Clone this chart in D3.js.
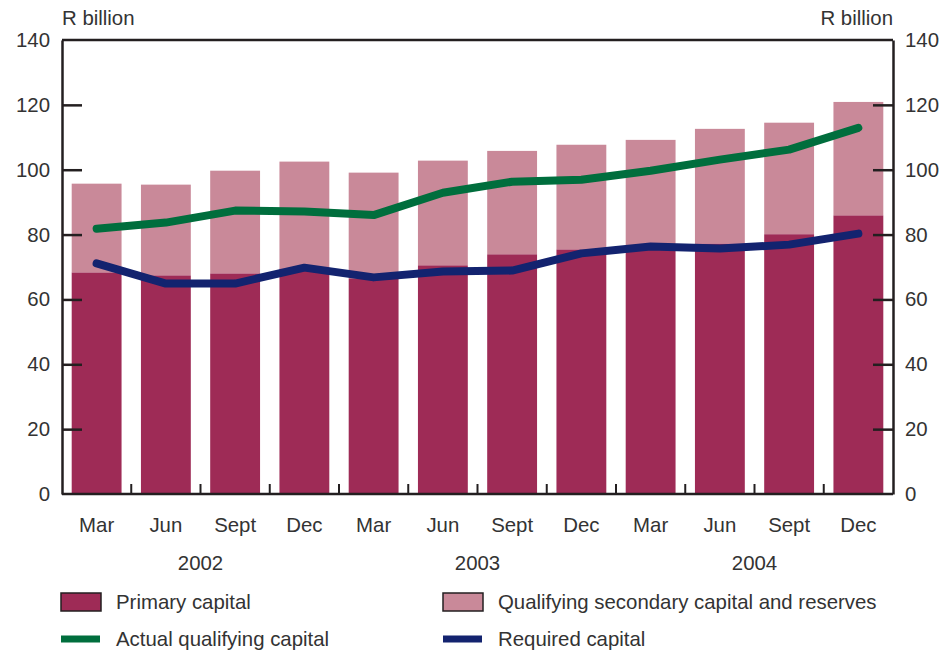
<!DOCTYPE html>
<html>
<head>
<meta charset="utf-8">
<script src="https://cdn.jsdelivr.net/npm/d3@7/dist/d3.min.js"></script>
<style>
  body { margin: 0; background: #fff; }
  text { font-family: "Liberation Sans", Arial, sans-serif; fill: #333; }
</style>
</head>
<body>
<div id="chart"></div>
<script>
// quarters and year labels
var quarters = ["Mar", "Jun", "Sept", "Dec", "Mar", "Jun", "Sept", "Dec", "Mar", "Jun", "Sept", "Dec"];
var years = ["2002", "2003", "2004"];

// R billion
var primary = [68.3, 67.4, 68.0, 69.5, 66.5, 70.5, 73.9, 75.4, 76.0, 77.2, 80.1, 85.9];
var totalQualifying = [95.7, 95.4, 99.7, 102.5, 99.1, 102.8, 105.8, 107.7, 109.2, 112.6, 114.5, 120.9];
var actualQualifying = [81.8, 83.7, 87.4, 87.1, 86.0, 92.9, 96.3, 96.9, 99.7, 103.1, 106.2, 112.9];
var requiredCapital = [71.1, 64.9, 64.9, 69.8, 66.8, 68.6, 68.9, 74.2, 76.3, 75.7, 76.9, 80.3];
var yTicks = [0, 20, 40, 60, 80, 100, 120, 140];

function main() {
    var width = 944, height = 652;
    var margin = { top: 40, left: 62, right: 51, bottom: 158 };
    var w = width - margin.left - margin.right,
        h = height - margin.top - margin.bottom;
    var fs = "20.4px";

    var colPrimary = "#9e2b56", colSecondary = "#c98999",
        colGreen = "#006e3d", colBlue = "#13236f", colAxis = "#231f20";

    var svg = d3.select("#chart").append("svg")
        .attr("width", width)
        .attr("height", height);

    var g = svg.append("g")
        .attr("transform", "translate(" + margin.left + "," + margin.top + ")");

    var idx = d3.range(quarters.length);

    var x = d3.scaleBand()
        .domain(idx)
        .range([0, w])
        .paddingInner(0.28)
        .paddingOuter(0.14);

    var y = d3.scaleLinear()
        .domain([0, 140])
        .range([h, 0]);

    // stacked bars: primary + secondary
    g.selectAll(".bar-secondary")
        .data(idx)
        .enter().append("rect")
        .attr("x", d => x(d))
        .attr("width", x.bandwidth())
        .attr("y", d => y(totalQualifying[d]))
        .attr("height", d => y(primary[d]) - y(totalQualifying[d]))
        .attr("fill", colSecondary);

    g.selectAll(".bar-primary")
        .data(idx)
        .enter().append("rect")
        .attr("x", d => x(d))
        .attr("width", x.bandwidth())
        .attr("y", d => y(primary[d]))
        .attr("height", d => y(0) - y(primary[d]))
        .attr("fill", colPrimary);

    // lines
    var line = d3.line()
        .x(d => x(d[0]) + x.bandwidth() / 2)
        .y(d => y(d[1]));

    g.append("path")
        .datum(idx.map(i => [i, actualQualifying[i]]))
        .attr("d", line)
        .attr("fill", "none")
        .attr("stroke", colGreen)
        .attr("stroke-width", 8)
        .attr("stroke-linecap", "round")
        .attr("stroke-linejoin", "round");

    g.append("path")
        .datum(idx.map(i => [i, requiredCapital[i]]))
        .attr("d", line)
        .attr("fill", "none")
        .attr("stroke", colBlue)
        .attr("stroke-width", 8)
        .attr("stroke-linecap", "round")
        .attr("stroke-linejoin", "round");

    // axes (ticks point inward)
    var leftAxis = d3.axisLeft(y).tickValues(yTicks).tickSize(-20).tickPadding(12).tickSizeOuter(0);
    var rightAxis = d3.axisRight(y).tickValues(yTicks).tickSize(-20).tickPadding(12).tickSizeOuter(0);

    var gl = g.append("g").call(leftAxis);
    var gr = g.append("g").attr("transform", "translate(" + w + ",0)").call(rightAxis);
    [gl, gr].forEach(function(a) {
        a.selectAll("path.domain").attr("stroke", colAxis).attr("stroke-width", 2.5);
        a.selectAll(".tick line").attr("stroke", colAxis).attr("stroke-width", 2.5);
        a.selectAll(".tick line").filter(d => d === 0 || d === 140).remove();
        a.selectAll(".tick text")
            .style("font-family", '"Liberation Sans", Arial, sans-serif')
            .style("font-size", fs).attr("fill", "#333");
    });

    // top border
    g.append("line")
        .attr("x1", 0).attr("x2", w)
        .attr("y1", 0).attr("y2", 0)
        .attr("stroke", colAxis).attr("stroke-width", 2.5);

    // bottom axis with ticks between bars
    var bottom = g.append("g").attr("transform", "translate(0," + h + ")");
    bottom.append("line")
        .attr("x1", 0).attr("x2", w)
        .attr("stroke", colAxis).attr("stroke-width", 2.5);
    var step = x.step();
    bottom.selectAll(".sep")
        .data(idx.slice(1))
        .enter().append("line")
        .attr("x1", d => x(d) - (step - x.bandwidth()) / 2)
        .attr("x2", d => x(d) - (step - x.bandwidth()) / 2)
        .attr("y1", 0).attr("y2", -10)
        .attr("stroke", colAxis).attr("stroke-width", 2);

    bottom.selectAll(".qlabel")
        .data(idx)
        .enter().append("text")
        .attr("x", d => x(d) + x.bandwidth() / 2)
        .attr("y", 38)
        .attr("text-anchor", "middle")
        .style("font-size", fs)
        .text(d => quarters[d]);

    bottom.selectAll(".ylabel")
        .data(years)
        .enter().append("text")
        .attr("x", (d, i) => (x(i * 4 + 1) + x(i * 4 + 2) + x.bandwidth()) / 2)
        .attr("y", 76)
        .attr("text-anchor", "middle")
        .style("font-size", fs)
        .text(d => d);

    // unit labels
    svg.append("text").attr("x", margin.left).attr("y", 25)
        .style("font-size", fs).text("R billion");
    svg.append("text").attr("x", margin.left + w).attr("y", 25)
        .attr("text-anchor", "end")
        .style("font-size", fs).text("R billion");

    // legend
    var legend = [
        { label: "Primary capital", type: "rect", color: colPrimary, x: 61, y: 602 },
        { label: "Qualifying secondary capital and reserves", type: "rect", color: colSecondary, x: 443, y: 602 },
        { label: "Actual qualifying capital", type: "line", color: colGreen, x: 61, y: 639 },
        { label: "Required capital", type: "line", color: colBlue, x: 443, y: 639 }
    ];
    var lg = svg.selectAll(".legend")
        .data(legend)
        .enter().append("g")
        .attr("transform", d => "translate(" + d.x + "," + d.y + ")");
    lg.filter(d => d.type === "rect").append("rect")
        .attr("x", 0).attr("y", -9).attr("width", 40).attr("height", 18)
        .attr("fill", d => d.color).attr("stroke", "#231f20").attr("stroke-width", 1.5);
    lg.filter(d => d.type === "line").append("rect")
        .attr("x", 0).attr("y", -3.5).attr("width", 39).attr("height", 7)
        .attr("fill", d => d.color);
    lg.append("text")
        .attr("x", 55).attr("y", 7)
        .style("font-size", fs)
        .text(d => d.label);
}

main();
</script>
</body>
</html>
